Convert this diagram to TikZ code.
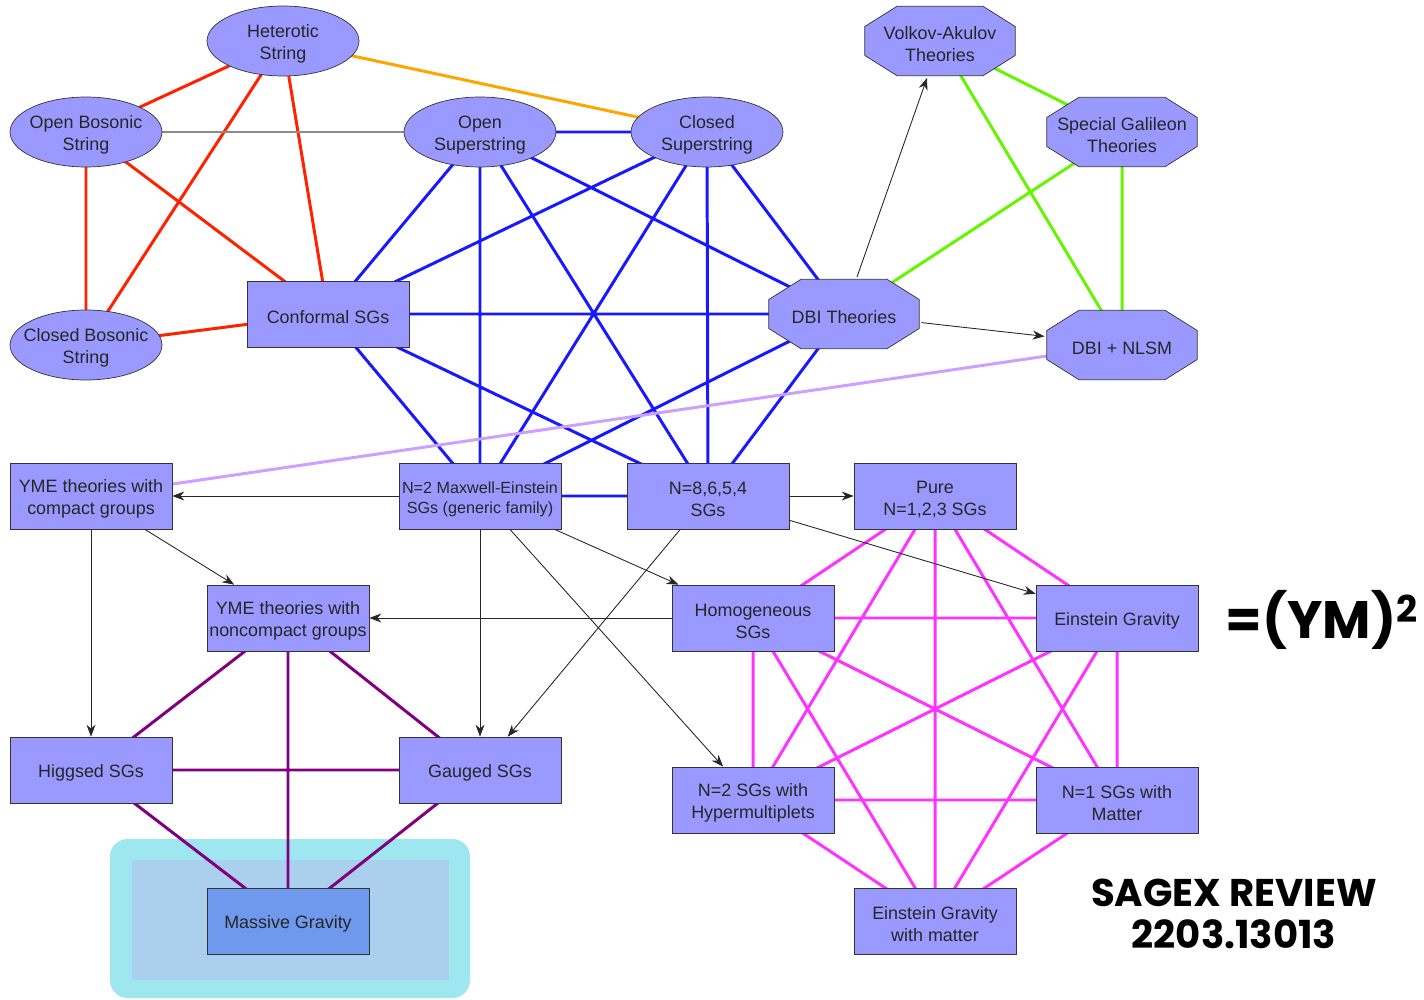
\documentclass[tikz,border=0pt]{standalone}
\usepackage{fontspec}
\setmainfont{Liberation Sans}
\newfontfamily\handfont{Poppins}
\usetikzlibrary{arrows.meta,shapes.geometric}
\pgfdeclarelayer{glow}
\pgfdeclarelayer{edges}
\pgfsetlayers{glow,edges,main}
\definecolor{nodefill}{RGB}{153,153,255}
\definecolor{massfill}{RGB}{111,153,236}
\definecolor{edgeblue}{RGB}{25,25,255}
\definecolor{edgered}{RGB}{255,34,0}
\definecolor{edgeorange}{RGB}{255,165,0}
\definecolor{edgegreen}{RGB}{102,245,0}
\definecolor{edgelilac}{RGB}{204,160,255}
\definecolor{edgepurple}{RGB}{128,0,128}
\definecolor{edgepink}{RGB}{255,51,255}
\definecolor{edgegray}{RGB}{140,140,140}
\definecolor{glowcyan}{RGB}{158,230,240}
\definecolor{glowblue}{RGB}{170,208,238}

\begin{document}
\begin{tikzpicture}[x=0.02cm,y=-0.02cm,
  every node/.style={font=\fontsize{10.2}{12.5}\selectfont,text=black!85,text height=10.8pt},
  twoline/.style={text height=23.2pt},
  theory/.style={draw=black!80,fill=nodefill,minimum width=3.24cm,minimum height=1.32cm,inner xsep=0pt,align=center},
  string/.style={ellipse,draw=black!80,fill=nodefill,minimum width=3.04cm,minimum height=1.40cm,inner xsep=-0.5cm,inner ysep=0pt,align=center,twoline},
  octa/.style={minimum width=3.08cm,minimum height=1.46cm,inner sep=0pt,align=center,
    path picture={\filldraw[draw=black!80,fill=nodefill]
      ([xshift=1pt,yshift=-0.44cm]path picture bounding box.north west) --
      ([xshift=0.68cm,yshift=-1pt]path picture bounding box.north west) --
      ([xshift=-0.68cm,yshift=-1pt]path picture bounding box.north east) --
      ([xshift=-1pt,yshift=-0.44cm]path picture bounding box.north east) --
      ([xshift=-1pt,yshift=0.44cm]path picture bounding box.south east) --
      ([xshift=-0.68cm,yshift=1pt]path picture bounding box.south east) --
      ([xshift=0.68cm,yshift=1pt]path picture bounding box.south west) --
      ([xshift=1pt,yshift=0.44cm]path picture bounding box.south west) -- cycle;}},
  link/.style={line width=1.7pt},
  imply/.style={-{Stealth[length=2.4mm,width=1.8mm]},line width=0.5pt,black!85},
  hand/.style={font=\handfont\bfseries\fontsize{26}{30}\selectfont,text=black,text height=}]
  \useasboundingbox (0,0) rectangle (1424,1000);
  % highlight round massive gravity
  \begin{pgfonlayer}{glow}
    \fill[glowcyan,rounded corners=10] (110,839) rectangle (470,998);
    \fill[glowblue] (132,860) rectangle (449,980);
  \end{pgfonlayer}
  % string theories
  \node[string] (het) at (283,41) {Heterotic\\String};
  \node[string] (obos) at (86,132) {Open Bosonic\\String};
  \node[string] (osup) at (480,132) {Open\\Superstring};
  \node[string] (csup) at (707,132) {Closed\\Superstring};
  \node[string] (cbos) at (86,345) {Closed Bosonic\\String};
  % scalar and brane theories
  \node[octa,twoline] (va) at (940,41) {Volkov-Akulov\\Theories};
  \node[octa,twoline] (sgal) at (1122,132) {Special Galileon\\Theories};
  \node[octa] (dbi) at (844,314) {DBI Theories};
  \node[octa] (dbinl) at (1122,345) {DBI + NLSM};
  % gravity and gauge theories
  \node[theory] (conf) at (328,314) {Conformal SGs};
  \node[theory,twoline] (ymec) at (91,496) {YME theories with\\compact groups};
  \node[theory,font=\fontsize{9.2}{11.3}\selectfont,text height=21.8pt] (me) at (480,496) {N=2 Maxwell-Einstein\\SGs (generic family)};
  \node[theory,twoline] (n8) at (708,496) {N=8,6,5,4\\SGs};
  \node[theory,twoline] (pure) at (935,496) {Pure\\N=1,2,3 SGs};
  \node[theory,twoline] (ymen) at (288,618) {YME theories with\\noncompact groups};
  \node[theory,twoline] (hom) at (753,618) {Homogeneous\\SGs};
  \node[theory] (eg) at (1117,618) {Einstein Gravity};
  \node[theory] (higgs) at (91,770) {Higgsed SGs};
  \node[theory] (gauged) at (480,770) {Gauged SGs};
  \node[theory,twoline] (hyper) at (753,800) {N=2 SGs with\\Hypermultiplets};
  \node[theory,twoline] (n1m) at (1117,800) {N=1 SGs with\\Matter};
  \node[theory,fill=massfill] (massive) at (288,921) {Massive Gravity};
  \node[theory,twoline] (egm) at (935,921) {Einstein Gravity\\with matter};
  % handwritten notes
  \node[hand,font=\handfont\bfseries\fontsize{30}{34}\selectfont] (ymsq) at (1322,620) {=(YM)\textsuperscript{2}};
  \node[hand,align=center,font=\handfont\bfseries\fontsize{22}{24}\selectfont] (sagex) at (1234,914) {SAGEX REVIEW\\2203.13013};
  % double copy webs, drawn under the nodes
  \begin{pgfonlayer}{edges}
  \draw[link,edgered] (het.center) -- (obos.center) (het.center) -- (cbos.center)
    (het.center) -- (conf.center) (obos.center) -- (cbos.center)
    (obos.center) -- (conf.center) (cbos.center) -- (conf.center);
  \draw[link,edgeorange] (het.center) -- (csup.center);
  \draw[link,edgegray] (obos.center) -- (osup.center);
  \draw[link,edgeblue] (osup.center) -- (csup.center) (osup.center) -- (conf.center)
    (osup.center) -- (me.center) (osup.center) -- (n8.center) (osup.center) -- (dbi.center)
    (csup.center) -- (conf.center) (csup.center) -- (me.center) (csup.center) -- (n8.center)
    (csup.center) -- (dbi.center) (conf.center) -- (dbi.center) (conf.center) -- (me.center)
    (conf.center) -- (n8.center) (dbi.center) -- (me.center) (dbi.center) -- (n8.center)
    (me.center) -- (n8.center);
  \draw[link,edgegreen] (va.center) -- (sgal.center) (va.center) -- (dbinl.center)
    (sgal.center) -- (dbi.center) (sgal.center) -- (dbinl.center);
  \draw[link,edgelilac] (dbinl.center) -- (ymec.center);
  \draw[link,edgepurple] (ymen.center) -- (higgs.center) (ymen.center) -- (gauged.center)
    (ymen.center) -- (massive.center) (higgs.center) -- (gauged.center)
    (higgs.center) -- (massive.center) (gauged.center) -- (massive.center);
  \draw[link,edgepink] (pure.center) -- (hom.center) (pure.center) -- (eg.center)
    (pure.center) -- (hyper.center) (pure.center) -- (n1m.center) (pure.center) -- (egm.center)
    (hom.center) -- (eg.center) (hom.center) -- (hyper.center) (hom.center) -- (n1m.center)
    (hom.center) -- (egm.center) (eg.center) -- (hyper.center) (eg.center) -- (n1m.center)
    (eg.center) -- (egm.center) (hyper.center) -- (n1m.center) (hyper.center) -- (egm.center)
    (n1m.center) -- (egm.center);
  \end{pgfonlayer}
  % limits and truncations
  \draw[imply] (dbi) -- (va);
  \draw[imply] (dbi) -- (dbinl);
  \draw[imply] (me) -- (ymec);
  \draw[imply] (n8) -- (pure);
  \draw[imply] (ymec) -- (ymen);
  \draw[imply] (ymec) -- (higgs);
  \draw[imply] (me) -- (gauged);
  \draw[imply] (me) -- (hom);
  \draw[imply] (me) -- (hyper);
  \draw[imply] (n8) -- (gauged);
  \draw[imply] (n8) -- (eg);
  \draw[imply] (hom) -- (ymen);
\end{tikzpicture}
\end{document}
